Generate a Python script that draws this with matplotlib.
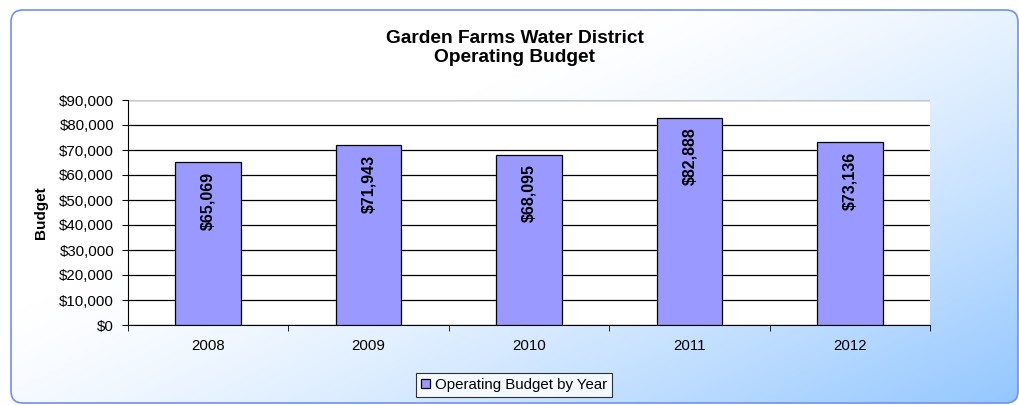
import numpy as np
import matplotlib.pyplot as plt
from matplotlib.patches import FancyBboxPatch
from matplotlib.ticker import FuncFormatter, MultipleLocator

years = ['2008', '2009', '2010', '2011', '2012']
budget = [65069, 71943, 68095, 82888, 73136]
title = 'Garden Farms Water District\nOperating Budget'
series_name = 'Operating Budget by Year'

plt.rcParams['font.family'] = ['Liberation Sans', 'DejaVu Sans']

W, H = 1020, 405
fig = plt.figure(figsize=(W / 100, H / 100), dpi=100)

# background panel with a diagonal gradient
bg = fig.add_axes([0, 0, 1, 1], zorder=-5)
bg.set_xlim(0, W)
bg.set_ylim(H, 0)
bg.axis('off')
gx, gy = np.meshgrid(np.linspace(0, 1, 300), np.linspace(0, 1, 120))
t = np.clip((0.55 * gx + 0.45 * gy - 0.35) / 0.65, 0, 1) ** 1.3
c0 = np.array([1.0, 1.0, 1.0])
c1 = np.array([0.58, 0.78, 1.0])
img = c0 + (c1 - c0) * t[..., None]
box = FancyBboxPatch((11, 10), 1007, 393, boxstyle='round,pad=0,rounding_size=12',
                     facecolor='none', edgecolor='#6f8ff5', lw=1.2)
bg.add_patch(box)
im = bg.imshow(img, extent=(11, 1018, 403, 10), aspect='auto', interpolation='bilinear')
im.set_clip_path(box)

ax = fig.add_axes([128 / W, 1 - 325 / H, 802 / W, 225 / H])
ax.set_facecolor('white')
ax.set_axisbelow(True)
x = np.arange(len(years))
bars = ax.bar(x, budget, width=0.41, color='#9999ff', edgecolor='black', lw=0.9, zorder=3)
ax.set_xlim(-0.5, len(years) - 0.5)
ax.set_ylim(0, 90000)
ax.yaxis.set_major_locator(MultipleLocator(10000))
ax.yaxis.set_major_formatter(FuncFormatter(lambda v, p: '${:,.0f}'.format(v)))
ax.grid(axis='y', color='black', lw=0.9)
ax.set_xticks(x)
ax.set_xticklabels(years, fontsize=10.8)
ax.set_xticks(np.arange(len(years) + 1) - 0.5, minor=True)
ax.tick_params(axis='x', which='major', length=0, pad=10)
ax.tick_params(axis='x', which='minor', length=4, direction='out', color='black')
ax.tick_params(axis='y', labelsize=10.8, length=4, color='black', pad=6)
for s in ['top', 'right']:
    ax.spines[s].set_visible(False)
ax.spines['left'].set_color('black')
ax.spines['bottom'].set_color('black')
ax.axhline(90000, color='#c8c8c8', lw=1.5, zorder=1)
ax.set_ylabel('Budget', fontsize=11, fontweight='bold')
ax.yaxis.set_label_coords(-0.10, 0.5)

for b, v in zip(bars, budget):
    ax.annotate('${:,}'.format(v), (b.get_x() + b.get_width() / 2, v),
                xytext=(0, -7), textcoords='offset points', rotation=90,
                ha='center', va='top', fontsize=11.5, fontweight='bold', zorder=4)

fig.text(515 / W, 1 - 48 / H, title, ha='center', va='center',
         fontsize=13.8, fontweight='bold', linespacing=1.2)

leg = fig.legend([bars[0]], [series_name], loc='center', bbox_to_anchor=(514 / W, 1 - 385 / H),
                 fontsize=10.8, frameon=True, fancybox=False, edgecolor='black',
                 handlelength=0.6, handleheight=0.6, handletextpad=0.3, borderpad=0.35)
leg.get_frame().set_linewidth(0.8)

fig.savefig('out.png', dpi=100)
